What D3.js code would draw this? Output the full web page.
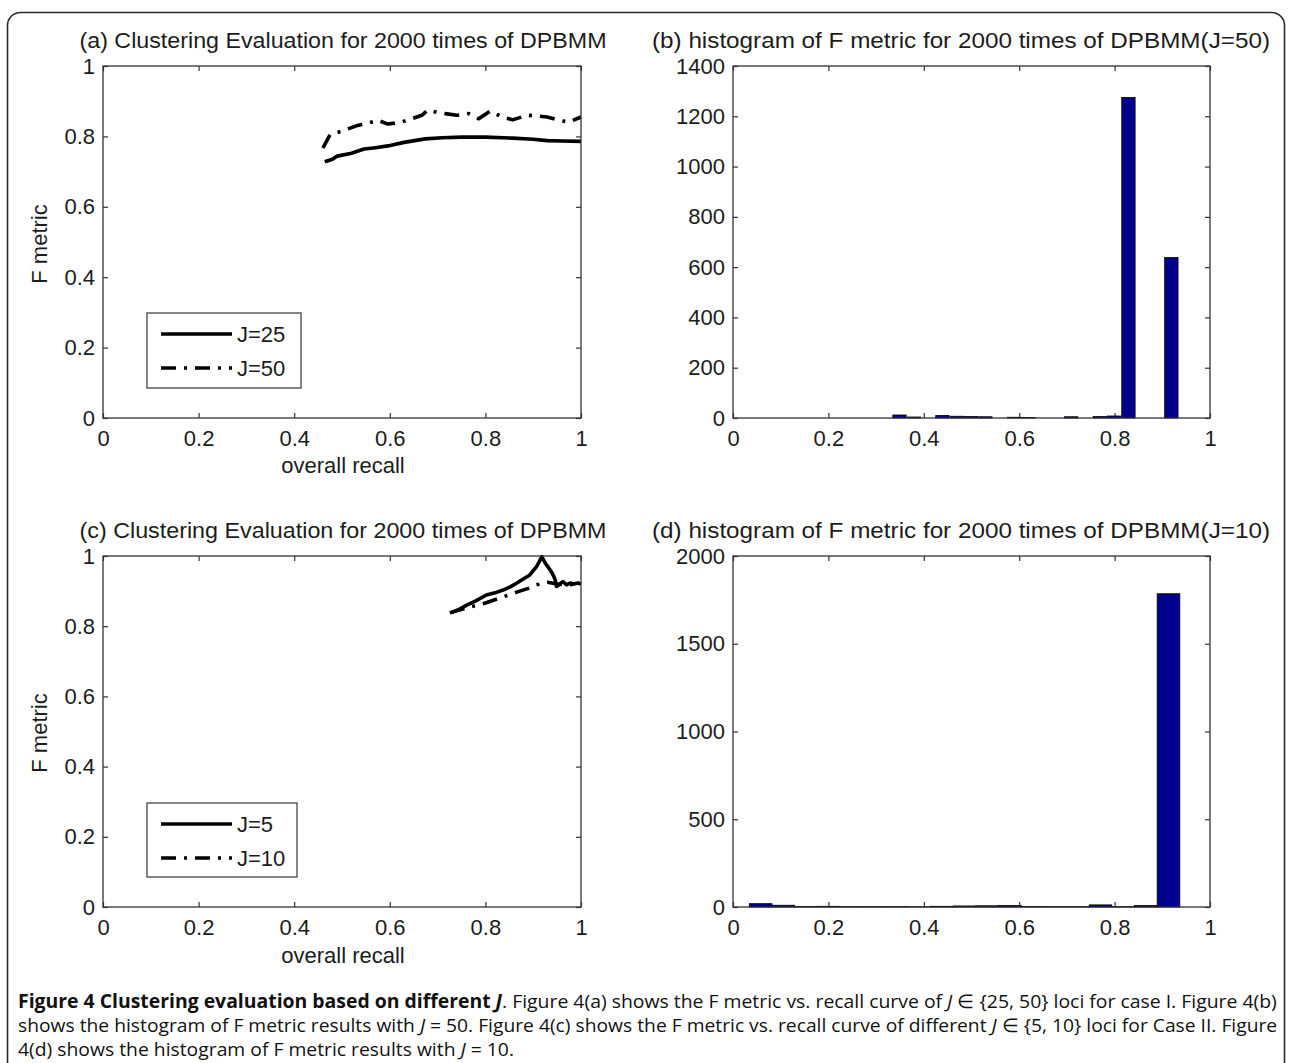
<!DOCTYPE html>
<html>
<head>
<meta charset="utf-8">
<script src="https://cdn.jsdelivr.net/npm/d3@7"></script>
<style>
  body { margin: 0; background: #fff; }
  svg { display: block; }
  .lbl { font-family: "Liberation Sans", Arial, Helvetica, sans-serif; fill: #1c1c1c; }
  .cap { font-family: "Open Sans", "Noto Sans", sans-serif; fill: #111; }
</style>
</head>
<body>
<svg id="fig" width="1293" height="1063"></svg>
<script>
// ---- tick values ----
const recallTicks = [0, 0.2, 0.4, 0.6, 0.8, 1];
const fTicks = [0, 0.2, 0.4, 0.6, 0.8, 1];
const countTicksB = [0, 200, 400, 600, 800, 1000, 1200, 1400];
const countTicksD = [0, 500, 1000, 1500, 2000];

// ---- (a) F metric vs overall recall ----
const recallJ25 = [0.464, 0.48, 0.49, 0.52, 0.546, 0.57, 0.596, 0.63, 0.674, 0.71, 0.75, 0.80, 0.857, 0.90, 0.929, 0.96, 1.0];
const fJ25      = [0.728, 0.735, 0.744, 0.752, 0.764, 0.768, 0.773, 0.783, 0.793, 0.796, 0.798, 0.798, 0.795, 0.792, 0.788, 0.787, 0.786];
const recallJ50 = [0.46, 0.475, 0.50, 0.53, 0.555, 0.575, 0.596, 0.623, 0.645, 0.667, 0.68, 0.70, 0.72, 0.74, 0.765, 0.786, 0.81, 0.835, 0.857, 0.887, 0.91, 0.929, 0.95, 0.973, 1.0];
const fJ50      = [0.767, 0.805, 0.815, 0.83, 0.838, 0.846, 0.835, 0.84, 0.85, 0.86, 0.875, 0.868, 0.864, 0.86, 0.865, 0.85, 0.872, 0.855, 0.847, 0.86, 0.858, 0.855, 0.848, 0.84, 0.855];

// ---- (b) histogram of F metric, J=50 ----
const binCentersB = [0.349, 0.379, 0.409, 0.439, 0.469, 0.499, 0.529, 0.559, 0.589, 0.619, 0.649, 0.679, 0.709, 0.739, 0.769, 0.799, 0.829, 0.859, 0.889, 0.919];
const countsB     = [12, 4, 0, 10, 7, 6, 5, 0, 3, 2, 0, 0, 5, 0, 6, 8, 1275, 0, 0, 638];
const binWidthB = 0.028;

// ---- (c) F metric vs overall recall ----
const recallJ5 = [0.726, 0.745, 0.761, 0.78, 0.802, 0.82, 0.837, 0.852, 0.866, 0.88, 0.893, 0.90, 0.907, 0.913, 0.918, 0.923, 0.928, 0.933, 0.938, 0.942, 0.946, 0.949, 0.955, 0.962, 0.97, 0.977, 0.985, 0.994, 1.0];
const fJ5      = [0.838, 0.848, 0.86, 0.872, 0.889, 0.895, 0.903, 0.912, 0.923, 0.935, 0.946, 0.958, 0.97, 0.985, 0.998, 0.985, 0.974, 0.965, 0.955, 0.945, 0.932, 0.913, 0.92, 0.927, 0.918, 0.923, 0.92, 0.923, 0.92];
const recallJ10 = [0.726, 0.76, 0.80, 0.84, 0.872, 0.9, 0.914, 0.93, 0.95, 0.97, 1.0];
const fJ10      = [0.838, 0.852, 0.866, 0.885, 0.9, 0.912, 0.922, 0.925, 0.92, 0.918, 0.92];

// ---- (d) histogram of F metric, J=10 ----
const binCentersD = [0.058, 0.1055, 0.153, 0.2005, 0.248, 0.2955, 0.343, 0.3905, 0.438, 0.4855, 0.533, 0.5805, 0.628, 0.6755, 0.723, 0.7705, 0.818, 0.8655, 0.913];
const countsD     = [19, 10, 3, 4, 2, 2, 2, 1, 4, 6, 7, 8, 3, 2, 2, 12, 2, 8, 1785];
const binWidthD = 0.0475;

// ---- text ----
const titles = [
  "(a) Clustering Evaluation for 2000 times of DPBMM",
  "(b) histogram of F metric for 2000 times of DPBMM(J=50)",
  "(c) Clustering Evaluation for 2000 times of DPBMM",
  "(d) histogram of F metric for 2000 times of DPBMM(J=10)"
];
const legendA = ["J=25", "J=50"];
const legendC = ["J=5", "J=10"];
const captionLines = [
  [{t: "Figure 4 Clustering evaluation based on different ", b: 1}, {t: "J", b: 1, i: 1},
   {t: ". Figure 4(a) shows the F metric vs. recall curve of "}, {t: "J", i: 1},
   {t: " \u2208 {25, 50} loci for case I. Figure 4(b)"}],
  [{t: "shows the histogram of F metric results with "}, {t: "J", i: 1},
   {t: " = 50. Figure 4(c) shows the F metric vs. recall curve of different "}, {t: "J", i: 1},
   {t: " \u2208 {5, 10} loci for Case II. Figure"}],
  [{t: "4(d) shows the histogram of F metric results with "}, {t: "J", i: 1}, {t: " = 10."}]
];

const svg = d3.select("#fig");
const DASHDOT = "15,8,3,8";
const BAR = "#00008c";
const FS = 22;

// outer rounded frame
svg.append("rect")
  .attr("x", 7.5).attr("y", 12.5).attr("width", 1277).attr("height", 1100)
  .attr("rx", 13).attr("fill", "none").attr("stroke", "#2a2a2a").attr("stroke-width", 1.6);

function panel(box, ydom, yticks, yfmt, title, titleW) {
  const x = d3.scaleLinear().domain([0, 1]).range([box.l, box.r]);
  const y = d3.scaleLinear().domain(ydom).range([box.b, box.t]);
  const g = svg.append("g");

  const style = sel => {
    sel.select(".domain").remove();
    sel.selectAll(".tick line").attr("stroke", "#333").attr("stroke-width", 1.2);
    sel.selectAll(".tick text").attr("class", "lbl").attr("font-size", FS);
  };

  g.append("g").attr("transform", `translate(0,${box.b})`)
    .call(d3.axisBottom(x).tickValues(recallTicks).tickSize(-5).tickPadding(12).tickFormat(d3.format("~g")))
    .call(style);
  g.append("g").attr("transform", `translate(0,${box.t})`)
    .call(d3.axisTop(x).tickValues(recallTicks).tickSize(-5).tickFormat(""))
    .call(style);
  g.append("g").attr("transform", `translate(${box.l},0)`)
    .call(d3.axisLeft(y).tickValues(yticks).tickSize(-5).tickPadding(8).tickFormat(yfmt))
    .call(style);
  g.append("g").attr("transform", `translate(${box.r},0)`)
    .call(d3.axisRight(y).tickValues(yticks).tickSize(-5).tickFormat(""))
    .call(style);

  g.selectAll("text").style("font-family", '"Liberation Sans", Arial, sans-serif').attr("fill", "#1c1c1c");

  g.append("text").attr("class", "lbl")
    .attr("x", box.tc).attr("y", box.t - 18)
    .attr("text-anchor", "middle").attr("font-size", FS)
    .attr("textLength", titleW).attr("lengthAdjust", "spacingAndGlyphs")
    .text(title);

  const body = svg.append("g");
  svg.append("rect")
    .attr("x", box.l).attr("y", box.t).attr("width", box.r - box.l).attr("height", box.b - box.t)
    .attr("fill", "none").attr("stroke", "#333").attr("stroke-width", 1.3);
  return {x, y, g: body};
}

function curve(p, xs, ys, dash) {
  const pts = xs.map((v, i) => [v, ys[i]]);
  p.g.append("path").datum(pts)
    .attr("d", d3.line().x(d => p.x(d[0])).y(d => p.y(d[1])))
    .attr("fill", "none").attr("stroke", "#000").attr("stroke-width", 3.6)
    .attr("stroke-linejoin", "round")
    .attr("stroke-dasharray", dash || null);
}

function bars(p, centers, counts, w) {
  p.g.selectAll(null).data(centers.map((c, i) => ({c, n: counts[i]})).filter(d => d.n > 0))
    .join("rect")
    .attr("x", d => p.x(d.c - w / 2))
    .attr("width", d => p.x(d.c + w / 2) - p.x(d.c - w / 2))
    .attr("y", d => p.y(d.n))
    .attr("height", d => p.y(0) - p.y(d.n))
    .attr("fill", BAR).attr("stroke", "#000").attr("stroke-width", 0.8);
}

function legend(p, box, labels) {
  const lg = svg.append("g");
  lg.append("rect").attr("x", box.x).attr("y", box.y).attr("width", box.w).attr("height", box.h)
    .attr("fill", "#fff").attr("stroke", "#444").attr("stroke-width", 1.3);
  labels.forEach((lab, i) => {
    const yy = box.y + 21 + i * 34;
    lg.append("line").attr("x1", box.x + 14).attr("x2", box.x + 85).attr("y1", yy).attr("y2", yy)
      .attr("stroke", "#000").attr("stroke-width", 3.6)
      .attr("stroke-dasharray", i === 1 ? DASHDOT : null);
    lg.append("text").attr("class", "lbl").attr("x", box.x + 90).attr("y", yy + 8)
      .attr("font-size", FS).text(lab);
  });
}

function xlabel(box, y) {
  svg.append("text").attr("class", "lbl").attr("x", (box.l + box.r) / 2 + 1).attr("y", y)
    .attr("text-anchor", "middle").attr("font-size", FS).text("overall recall");
}
function ylabel(cx, cy) {
  svg.append("text").attr("class", "lbl")
    .attr("transform", `translate(${cx},${cy}) rotate(-90)`)
    .attr("text-anchor", "middle").attr("font-size", FS).text("F metric");
}

const fmtF = d3.format("~g");
const fmtN = d3.format("d");

// (a)
const boxA = {l: 103, r: 581, t: 66, b: 418, tc: 343};
const pA = panel(boxA, [0, 1], fTicks, fmtF, titles[0], 527);
curve(pA, recallJ25, fJ25);
curve(pA, recallJ50, fJ50, DASHDOT);
legend(pA, {x: 147, y: 313, w: 154, h: 75}, legendA);
xlabel(boxA, 473);
ylabel(47, 244);

// (b)
const boxB = {l: 733, r: 1210, t: 66, b: 418, tc: 961};
const pB = panel(boxB, [0, 1400], countTicksB, fmtN, titles[1], 618);
bars(pB, binCentersB, countsB, binWidthB);

// (c)
const boxC = {l: 103, r: 581, t: 556, b: 907, tc: 343};
const pC = panel(boxC, [0, 1], fTicks, fmtF, titles[2], 527);
curve(pC, recallJ5, fJ5);
curve(pC, recallJ10, fJ10, DASHDOT);
legend(pC, {x: 147, y: 803, w: 150, h: 74}, legendC);
xlabel(boxC, 963);
ylabel(47, 733);

// (d)
const boxD = {l: 733, r: 1210, t: 556, b: 907, tc: 961};
const pD = panel(boxD, [0, 2000], countTicksD, fmtN, titles[3], 618);
bars(pD, binCentersD, countsD, binWidthD);

// caption, justified to the frame width
const capX = 18, capW = 1260;
const capY = [1008, 1032, 1056];
const capNodes = captionLines.map((parts, i) => {
  const t = svg.append("text").attr("class", "cap").attr("font-size", 19)
    .attr("x", 0).attr("y", 0);
  parts.forEach(p => {
    t.append("tspan").text(p.t)
      .attr("font-weight", p.b ? 700 : 400)
      .attr("font-style", p.i ? "italic" : "normal");
  });
  return t;
});
const scales = capNodes.map(t => capW / t.node().getComputedTextLength());
const sJust = (scales[0] + scales[1]) / 2;
capNodes.forEach((t, i) => {
  const s = i < 2 ? scales[i] : sJust;
  t.attr("transform", `translate(${capX},${capY[i]}) scale(${s},1)`);
});
</script>
</body>
</html>
